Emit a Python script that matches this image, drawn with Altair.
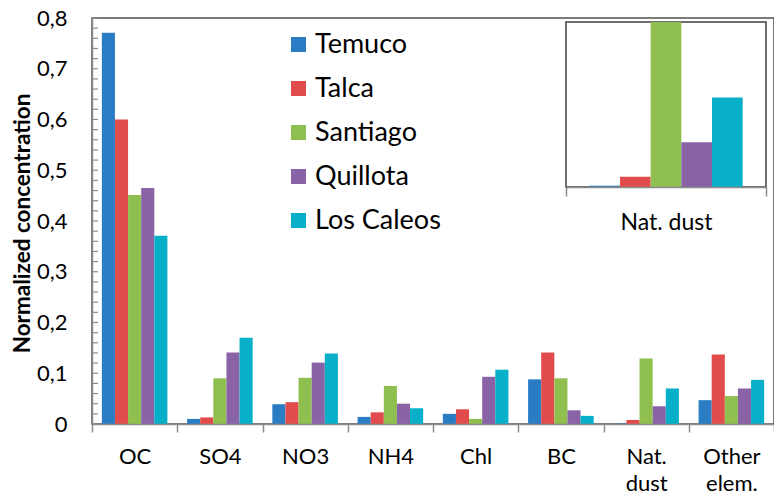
import altair as alt
import pandas as pd

categories = ["OC", "SO4", "NO3", "NH4", "Chl", "BC", "Nat. dust", "Other elem."]
sites = ["Temuco", "Talca", "Santiago", "Quillota", "Los Caleos"]
temuco = [0.771, 0.010, 0.039, 0.014, 0.020, 0.088, 0.001, 0.047]
talca = [0.600, 0.013, 0.043, 0.023, 0.029, 0.141, 0.008, 0.137]
santiago = [0.451, 0.090, 0.091, 0.075, 0.010, 0.090, 0.129, 0.055]
quillota = [0.465, 0.141, 0.121, 0.040, 0.093, 0.027, 0.035, 0.070]
los_caleos = [0.371, 0.170, 0.139, 0.031, 0.107, 0.016, 0.070, 0.087]
colors = ["#2A7DC2", "#E24B4B", "#8FBF4E", "#8A63A7", "#08AFC9"]
y_labels = [0, 0.1, 0.2, 0.3, 0.4, 0.5, 0.6, 0.7, 0.8]
minor_ticks = [round(i * 0.02, 2) for i in range(41)]
inset_cat = "Nat. dust"
inset_max = 0.129

series = [temuco, talca, santiago, quillota, los_caleos]
rows = []
for s, vals in zip(sites, series):
    for c, v in zip(categories, vals):
        rows.append({"cat": c, "site": s, "value": v})
df = pd.DataFrame(rows)

FONT = "Lato"
W, H = 682, 406
INSET_TOP, INSET_BOTTOM = 4, 169

color = alt.Color("site:N", scale=alt.Scale(domain=sites, range=colors),
                  legend=alt.Legend(orient="none", legendX=193, legendY=13, title=None,
                                    symbolType="square", symbolSize=225, labelFontSize=27,
                                    labelFont=FONT, rowPadding=16, labelOffset=3, padding=0,
                                    symbolStrokeWidth=0, labelColor="#000000"))

main_bars = alt.Chart(df).mark_bar().encode(
    x=alt.X("cat:N", sort=categories, title=None,
            scale=alt.Scale(paddingInner=0, paddingOuter=0),
            axis=alt.Axis(tickBand="extent", tickSize=8, tickColor="#8c8c8c",
                          domainColor="#8c8c8c", domainWidth=1.5, tickWidth=1.5,
                          labelAngle=0, labelFontSize=22, labelFont=FONT, labelColor="#000000",
                          labelPadding=14, labelLineHeight=27,
                          labelExpr="split(datum.label, ' ')", zindex=1)),
    xOffset=alt.XOffset("site:N", sort=sites,
                        scale=alt.Scale(domain=sites, paddingOuter=0.75, paddingInner=0)),
    y=alt.Y("value:Q", scale=alt.Scale(domain=[0, 0.8], nice=False),
            axis=alt.Axis(values=y_labels, ticks=False, grid=False, domainColor="#8c8c8c",
                          domainWidth=1.5, labelFontSize=22, labelFont=FONT,
                          labelColor="#000000", labelPadding=25,
                          labelExpr="datum.value == 0 ? '0' : replace(format(datum.value, '.1f'), '.', ',')",
                          title="Normalized concentration", titleFont=FONT, titleFontSize=22.5,
                          titleFontWeight="bold", titleColor="#000000", titleAngle=-90,
                          titleX=-70, titleY=205, titleAlign="center", titleBaseline="middle",
                          zindex=1)),
    color=color,
)

tick_df = pd.DataFrame({"t": minor_ticks})
ticks = alt.Chart(tick_df).mark_rule(color="#8c8c8c", strokeWidth=1.2).encode(
    y=alt.Y("t:Q"), x=alt.value(0), x2=alt.value(6)
)

main = alt.layer(main_bars, ticks)

frame_df = pd.DataFrame({"cat": [inset_cat], "lo": [0.0], "hi": [inset_max]})
inset_x_scale = alt.Scale(domain=[inset_cat], range=[474, 674], paddingInner=0, paddingOuter=0)
inset_y_scale = alt.Scale(domain=[0, inset_max], range=[INSET_BOTTOM, INSET_TOP], nice=False)

frame = alt.Chart(frame_df).mark_rect(fill="white", stroke="#404040", strokeWidth=1.5).encode(
    x=alt.X("cat:N", scale=inset_x_scale, title=None,
            axis=alt.Axis(orient="bottom", offset=-(H - INSET_BOTTOM), tickBand="extent",
                          tickSize=9, tickColor="#8c8c8c", tickWidth=1.5,
                          domainColor="#8c8c8c", domainWidth=1.5, labelAngle=0,
                          labelFontSize=23, labelFont=FONT, labelColor="#000000",
                          labelPadding=15, zindex=1)),
    y=alt.Y("lo:Q", scale=inset_y_scale, axis=None),
    y2="hi:Q",
)

inset_bars = alt.Chart(df).transform_filter(
    alt.datum.cat == inset_cat
).mark_bar(clip=True).encode(
    x=alt.X("cat:N", scale=inset_x_scale, title=None),
    xOffset=alt.XOffset("site:N", sort=sites,
                        scale=alt.Scale(domain=sites, paddingOuter=0.76, paddingInner=0)),
    y=alt.Y("value:Q", scale=inset_y_scale, axis=None),
    color=alt.Color("site:N", scale=alt.Scale(domain=sites, range=colors), legend=None),
)

inset = alt.layer(frame, inset_bars)

chart = alt.layer(main, inset).resolve_scale(
    x="independent", y="independent", xOffset="independent"
).resolve_axis(x="independent", y="independent").properties(
    width=W, height=H,
    autosize=alt.AutoSizeParams(type="none"),
    padding={"left": 84, "top": 10, "right": 0, "bottom": 72},
    background="white",
).configure_view(stroke="#505050", strokeWidth=1.5)

chart.save("out.html", embed_options={"renderer": "svg", "actions": False})
